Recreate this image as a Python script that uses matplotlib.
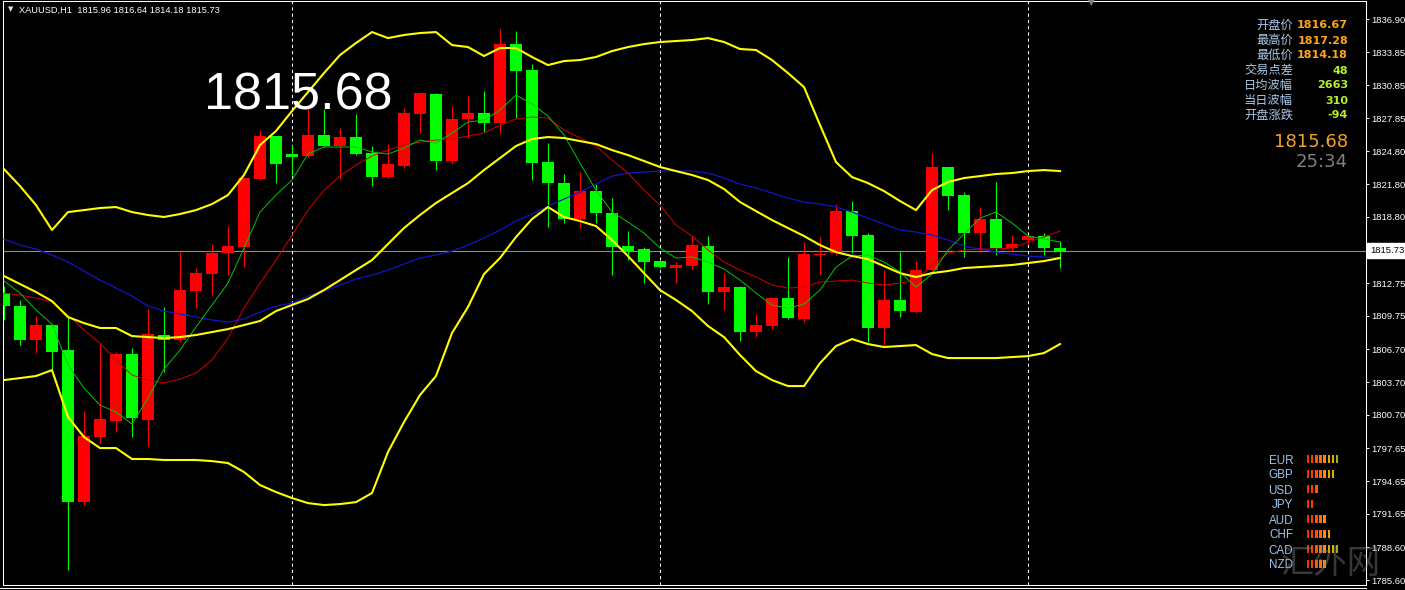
import matplotlib
matplotlib.use("Agg")
import matplotlib.pyplot as plt
import numpy as np
from matplotlib.lines import Line2D
from matplotlib.transforms import blended_transform_factory

# ---------------- data ----------------
symbol_header = "XAUUSD,H1  1815.96 1816.64 1814.18 1815.73"
big_price = "1815.68"
bid_price = 1815.73

opens = [1811.85, 1810.66, 1807.55, 1808.92, 1806.63, 1792.73, 1798.68, 1800.14, 1806.27, 1800.23,
         1808.01, 1807.55, 1812.03, 1813.58, 1815.50, 1816.05, 1822.27, 1826.20, 1824.56, 1824.37,
         1826.29, 1825.29, 1826.11, 1824.65, 1822.45, 1823.46, 1828.21, 1830.04, 1823.92, 1827.76,
         1828.30, 1827.39, 1834.61, 1832.24, 1823.82, 1821.90, 1818.61, 1821.17, 1819.16, 1816.14,
         1815.87, 1814.77, 1814.13, 1814.31, 1816.14, 1811.94, 1812.39, 1808.28, 1808.83, 1811.39,
         1809.47, 1815.32, 1815.50, 1819.34, 1817.15, 1808.65, 1811.21, 1810.11, 1813.95, 1823.37,
         1820.81, 1817.33, 1818.61, 1815.96, 1816.69, 1817.06, 1815.96]
highs = [1812.49, 1811.21, 1809.74, 1809.00, 1809.65, 1801.06, 1807.18, 1806.45, 1806.82, 1810.38,
         1810.57, 1815.59, 1814.13, 1816.33, 1817.97, 1822.45, 1826.75, 1826.25, 1825.38, 1828.76,
         1828.67, 1826.93, 1828.21, 1825.29, 1825.47, 1828.76, 1830.20, 1830.10, 1828.94, 1829.86,
         1830.32, 1835.98, 1835.80, 1832.78, 1825.56, 1822.73, 1822.91, 1821.81, 1820.53, 1817.51,
         1816.05, 1814.86, 1814.68, 1816.97, 1817.06, 1813.67, 1812.45, 1809.93, 1811.45, 1815.14,
         1816.51, 1816.97, 1819.98, 1820.26, 1817.33, 1813.95, 1815.59, 1814.77, 1824.65, 1823.40,
         1821.08, 1819.71, 1822.00, 1817.15, 1817.15, 1817.33, 1816.64]
lows = [1809.38, 1807.09, 1806.36, 1804.80, 1786.52, 1792.46, 1798.13, 1799.14, 1798.68, 1797.86,
        1804.62, 1807.37, 1810.47, 1811.66, 1813.49, 1814.22, 1822.18, 1821.90, 1822.64, 1824.28,
        1825.20, 1822.27, 1824.50, 1821.63, 1822.40, 1823.28, 1826.48, 1823.09, 1823.64, 1826.02,
        1826.57, 1826.48, 1827.85, 1822.18, 1817.88, 1818.25, 1817.79, 1818.25, 1813.49, 1814.86,
        1812.76, 1814.13, 1812.76, 1814.04, 1810.84, 1810.29, 1807.46, 1807.82, 1808.55, 1809.47,
        1809.19, 1813.49, 1815.32, 1815.50, 1807.37, 1807.09, 1809.65, 1810.02, 1813.90, 1819.43,
        1815.14, 1815.59, 1815.32, 1815.59, 1816.30, 1815.32, 1814.18]
closes = [1810.66, 1807.55, 1808.92, 1806.45, 1792.73, 1798.77, 1800.32, 1806.27, 1800.42, 1808.10,
          1807.55, 1812.12, 1813.67, 1815.50, 1816.14, 1822.36, 1826.20, 1823.64, 1824.28, 1826.29,
          1825.29, 1826.11, 1824.56, 1822.45, 1823.64, 1828.30, 1830.13, 1823.92, 1827.76, 1828.30,
          1827.39, 1834.61, 1832.14, 1823.73, 1821.90, 1818.61, 1821.17, 1819.16, 1816.05, 1815.69,
          1814.68, 1814.22, 1814.41, 1816.23, 1811.94, 1812.39, 1808.28, 1808.92, 1811.39, 1809.56,
          1815.41, 1815.41, 1819.34, 1817.06, 1808.65, 1811.21, 1810.20, 1813.95, 1823.37, 1820.72,
          1817.33, 1818.61, 1815.96, 1816.33, 1817.06, 1815.96, 1815.73]

bb_upper = [1823.18, 1821.63, 1819.89, 1817.61, 1819.25, 1819.43, 1819.62, 1819.71, 1819.25, 1818.98,
            1818.80, 1819.07, 1819.43, 1819.98, 1820.81, 1822.64, 1825.38, 1826.66, 1828.49, 1830.22,
            1831.96, 1833.61, 1834.71, 1835.71, 1835.16, 1835.44, 1835.62, 1835.71, 1834.52, 1834.34,
            1833.52, 1834.25, 1834.25, 1833.43, 1832.69, 1833.06, 1833.15, 1833.43, 1833.97, 1834.34,
            1834.61, 1834.80, 1834.89, 1834.98, 1835.16, 1834.80, 1834.16, 1834.07, 1833.15, 1831.96,
            1830.68, 1827.21, 1823.82, 1822.45, 1821.90, 1821.17, 1820.26, 1819.43, 1821.26, 1822.00,
            1822.36, 1822.54, 1822.73, 1822.82, 1823.00, 1823.09, 1823.00]
bb_middle = [1813.40, 1812.67, 1811.94, 1811.11, 1809.65, 1809.10, 1808.65, 1808.65, 1807.91, 1807.82,
             1807.73, 1807.82, 1808.01, 1808.28, 1808.55, 1808.92, 1809.29, 1810.20, 1810.75, 1811.30,
             1812.12, 1813.03, 1813.95, 1814.86, 1816.33, 1817.79, 1818.98, 1820.08, 1820.99, 1821.90,
             1823.09, 1824.19, 1825.29, 1825.93, 1826.11, 1826.02, 1825.74, 1825.47, 1824.92, 1824.46,
             1823.92, 1823.37, 1823.00, 1822.64, 1822.18, 1821.36, 1820.17, 1819.34, 1818.52, 1817.79,
             1817.06, 1816.23, 1815.59, 1815.23, 1814.95, 1814.31, 1813.67, 1813.31, 1813.67, 1813.86,
             1814.13, 1814.22, 1814.31, 1814.41, 1814.59, 1814.77, 1815.05]
bb_lower = [1803.89, 1804.07, 1804.26, 1804.80, 1800.51, 1798.68, 1797.67, 1797.67, 1796.67, 1796.67,
            1796.58, 1796.58, 1796.58, 1796.48, 1796.30, 1795.48, 1794.29, 1793.65, 1793.10, 1792.64,
            1792.46, 1792.55, 1792.73, 1793.56, 1797.31, 1800.05, 1802.52, 1804.26, 1808.19, 1810.57,
            1813.58, 1815.05, 1816.97, 1818.61, 1819.71, 1818.80, 1818.43, 1817.97, 1816.69, 1815.23,
            1813.67, 1812.12, 1811.21, 1810.20, 1808.83, 1807.82, 1806.18, 1804.71, 1803.89, 1803.34,
            1803.34, 1805.44, 1807.00, 1807.64, 1807.18, 1806.91, 1807.00, 1807.09, 1806.27, 1805.90,
            1805.90, 1805.90, 1805.90, 1805.99, 1806.08, 1806.36, 1807.18]
ma_blue = [1816.78, 1816.23, 1815.87, 1815.32, 1814.68, 1813.86, 1813.03, 1812.30, 1811.57, 1810.66,
           1810.20, 1809.93, 1809.65, 1809.38, 1809.19, 1809.47, 1810.11, 1810.66, 1810.93, 1811.57,
           1812.03, 1812.58, 1813.13, 1813.49, 1813.95, 1814.50, 1815.05, 1815.32, 1815.69, 1816.23,
           1816.87, 1817.61, 1818.43, 1819.07, 1819.80, 1820.44, 1821.08, 1821.81, 1822.54, 1822.82,
           1822.91, 1823.00, 1823.00, 1823.00, 1822.82, 1822.36, 1821.81, 1821.45, 1820.99, 1820.53,
           1820.17, 1819.98, 1819.71, 1819.25, 1818.70, 1818.15, 1817.61, 1817.42, 1817.15, 1816.69,
           1816.14, 1815.87, 1815.59, 1815.41, 1815.23, 1815.14, 1815.05]
ma_red = [1811.85, 1811.66, 1811.39, 1811.02, 1809.83, 1808.46, 1807.27, 1805.72, 1804.35, 1803.89,
          1803.62, 1803.98, 1804.53, 1805.72, 1807.73, 1810.47, 1812.76, 1814.86, 1817.15, 1819.43,
          1821.26, 1822.54, 1823.55, 1824.37, 1824.92, 1825.38, 1825.65, 1825.84, 1825.93, 1826.20,
          1826.48, 1827.21, 1827.76, 1827.94, 1827.85, 1826.75, 1826.02, 1825.29, 1824.01, 1822.82,
          1821.26, 1819.89, 1818.06, 1817.06, 1815.78, 1814.68, 1813.95, 1813.31, 1812.58, 1812.30,
          1812.39, 1812.85, 1812.94, 1813.03, 1812.76, 1812.58, 1812.76, 1813.03, 1814.41, 1815.50,
          1815.78, 1815.87, 1815.87, 1815.96, 1816.51, 1816.97, 1817.51]
ma_green = [1812.94, 1811.85, 1810.29, 1809.01, 1805.26, 1803.16, 1801.60, 1800.96, 1799.87, 1802.24,
            1804.90, 1806.63, 1808.74, 1810.75, 1812.76, 1815.96, 1819.25, 1820.81, 1822.18, 1824.56,
            1825.20, 1825.20, 1825.20, 1824.74, 1824.56, 1825.10, 1825.84, 1825.56, 1826.48, 1827.48,
            1827.66, 1828.58, 1829.95, 1829.13, 1828.03, 1826.29, 1823.73, 1821.26, 1819.25, 1818.34,
            1817.33, 1815.96, 1815.05, 1815.14, 1814.68, 1814.04, 1813.03, 1811.85, 1810.75, 1810.47,
            1810.84, 1812.12, 1814.22, 1815.23, 1815.32, 1814.68, 1813.77, 1812.39, 1813.58, 1815.78,
            1817.24, 1818.70, 1819.25, 1818.25, 1817.06, 1816.78, 1816.51]

price_ticks = [1836.90, 1833.85, 1830.85, 1827.85, 1824.80, 1821.80, 1818.80, 1812.75,
               1809.75, 1806.70, 1803.70, 1800.70, 1797.65, 1794.65, 1791.65, 1788.60, 1785.60]
day_separators = [18, 41, 64]

info_labels = ["开盘价", "最高价", "最低价", "交易点差", "日均波幅", "当日波幅", "开盘涨跌"]
info_values = ["1816.67", "1817.28", "1814.18", "48", "2663", "310", "-94"]
info_value_colors = ["#ffa41c", "#ffa41c", "#ffa41c", "#b4f02a", "#b4f02a", "#b4f02a", "#b4f02a"]
panel_price = "1815.68"
countdown = "25:34"

currencies = ["EUR", "GBP", "USD", "JPY", "AUD", "CHF", "CAD", "NZD"]
strength = [8, 7, 3, 2, 5, 6, 8, 5]
strength_colors = ["#ff2a00", "#ff3c00", "#ff5500", "#ff7000", "#ff8c00", "#f0a000", "#d8b000", "#a8b400"]

# ---------------- figure ----------------
W, H = 1405, 590
plt.rcParams['font.family'] = ['Liberation Sans', 'DejaVu Sans']
fig = plt.figure(figsize=(W / 100, H / 100), dpi=100, facecolor='black')


def fx(x):
    return x / W


def fy(y):
    return 1 - y / H


ax_l, ax_r, ax_t, ax_b = 3, 1366, 1, 585
ax = fig.add_axes([fx(ax_l), fy(ax_b), (ax_r - ax_l) / W, (ax_b - ax_t) / H], facecolor='black')

n = len(opens)
idx = np.arange(n)
ax.set_xlim(-0.0625, 85.125)
ax.set_ylim(1785.15, 1838.55)

# bid line and day separators
ax.axhline(bid_price, color='#8c8c8c', lw=0.8, zorder=1)
for d in day_separators:
    ax.axvline(d, color='white', lw=0.75, linestyle=(0, (3, 3)), zorder=1.5)

# candles
o = np.array(opens); c = np.array(closes); h = np.array(highs); lo = np.array(lows)
up = c > o
cols = np.where(up, '#ff0000', '#00ff00')
ax.vlines(idx, lo, h, colors=cols, lw=0.8, zorder=2)
bottoms = np.minimum(o, c)
heights = np.maximum(np.abs(c - o), 0.1)
ax.bar(idx, heights, bottom=bottoms, width=0.7, color=cols, linewidth=0, zorder=3)

# indicators
ax.plot(idx, ma_blue, color='#1414c8', lw=0.9, zorder=4)
ax.plot(idx, ma_red, color='#d40000', lw=0.7, zorder=4)
ax.plot(idx, ma_green, color='#00c800', lw=0.7, zorder=4)
for band in (bb_upper, bb_middle, bb_lower):
    ax.plot(idx, band, color='#ffff00', lw=1.5, zorder=5)

# axes styling
for s in ax.spines.values():
    s.set_color('white')
    s.set_linewidth(0.75)
ax.set_xticks([])
ax.yaxis.tick_right()
ax.set_yticks(price_ticks)
ax.set_yticklabels([f"{v:.2f}" for v in price_ticks])
ax.tick_params(axis='y', colors='white', length=2.2, width=0.7, pad=1.6, labelsize=6.8)

# current price box on axis
trans = blended_transform_factory(ax.transAxes, ax.transData)
ax.text(1.0 + 4 / (ax_r - ax_l), bid_price, f"{bid_price:.2f}", transform=trans, ha='left',
        va='center', fontsize=6.8, color='black', clip_on=False, zorder=10,
        bbox=dict(boxstyle='square,pad=0.3', facecolor='white', edgecolor='white'))

# extra bottom frame line
fig.add_artist(Line2D([0, fx(1366)], [fy(588), fy(588)], color='white', lw=0.75))

# header
fig.text(fx(10.5), fy(9), "▼", color='#e0e0e0', fontsize=5, ha='center', va='center',
         family=['DejaVu Sans'])
fig.text(fx(19), fy(13), symbol_header, color='white', fontsize=6.7, ha='left', va='baseline')
fig.text(fx(1091), fy(3), "▼", color='#808080', fontsize=6, ha='center', va='center',
         family=['DejaVu Sans'])

# big price
fig.text(fx(204), fy(110), big_price, color='white', fontsize=37.5, ha='left', va='baseline')

# info panel
for i, (lab, val, vc) in enumerate(zip(info_labels, info_values, info_value_colors)):
    yb = 28.5 + 15 * i
    fig.text(fx(1293), fy(yb), lab, color='#a9c8e6', fontsize=8.8, ha='right', va='baseline',
             family=['Noto Sans CJK SC', 'DejaVu Sans'])
    fig.text(fx(1348), fy(yb), val, color=vc, fontsize=8, ha='right', va='baseline',
             family=['DejaVu Sans'], fontweight='bold')
fig.text(fx(1348), fy(147), panel_price, color='#f2a030', fontsize=13, ha='right', va='baseline',
         family=['DejaVu Sans'])
fig.text(fx(1348), fy(167), countdown, color='#808080', fontsize=13, ha='right', va='baseline',
         family=['DejaVu Sans'])

# currency strength panel
for r, cur in enumerate(currencies):
    fig.text(fx(1293), fy(463.5 + 15 * r), cur, color='#9ec4ea', fontsize=8.4, ha='right',
             va='baseline')
slot = 4.16
axc = fig.add_axes([fx(1306.7), fy(571.5), 9.6 * slot / W, 120 / H])
axc.set_xlim(0, 9.6)
axc.set_ylim(7.5, -0.5)
axc.axis('off')
for r, k in enumerate(strength):
    axc.bar(np.arange(k), 0.58, width=0.6, bottom=r - 0.29, align='edge',
            color=strength_colors[:k], linewidth=0)

# watermark (overlaps the panel, as in the source image)
fig.text(fx(1331), fy(563), "汇外网", color='#8c8c8c', alpha=0.4, fontsize=24, ha='center',
         va='center', family=['Noto Sans CJK SC', 'DejaVu Sans'], zorder=20)

fig.savefig("out.png", dpi=100, facecolor='black')
